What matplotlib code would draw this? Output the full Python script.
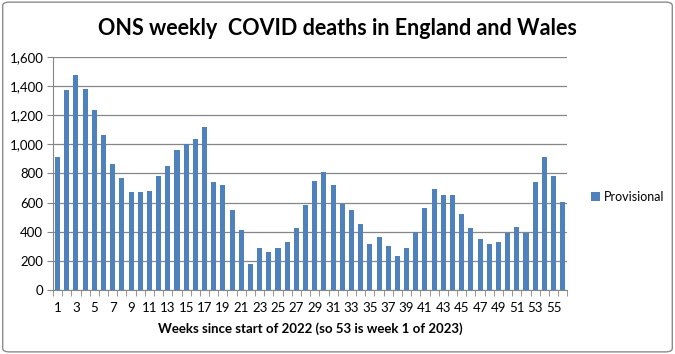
import matplotlib
matplotlib.use("Agg")
import matplotlib.pyplot as plt
from matplotlib.patches import FancyBboxPatch
import numpy as np

weeks = list(range(1, 57))
deaths = [915, 1375, 1478, 1382, 1237, 1067, 862, 767, 672, 672,
          678, 780, 848, 958, 1003, 1040, 1122, 740, 718, 548,
          410, 180, 285, 260, 285, 329, 423, 584, 748, 808,
          720, 590, 547, 452, 315, 361, 300, 231, 285, 400,
          561, 692, 651, 651, 520, 423, 347, 313, 329, 389,
          430, 389, 740, 916, 784, 607]
tick_labels = [str(w) if w % 2 == 1 else "" for w in weeks]
yticks = [0, 200, 400, 600, 800, 1000, 1200, 1400, 1600]

plt.rcParams['font.family'] = ['Lato', 'DejaVu Sans']

fig = plt.figure(figsize=(6.75, 3.54), dpi=100)
# outer border like the excel chart frame
fig.patches.append(FancyBboxPatch((0.004, 0.006), 0.992, 0.988, boxstyle="round,pad=0,rounding_size=0.01",
                                  transform=fig.transFigure, fill=False, edgecolor="#8c8c8c", lw=1))

ax = fig.add_axes([0.0785, 0.181, 0.762, 0.658])
x = np.arange(len(weeks))
ax.bar(x, deaths, width=0.55, color="#4F81BD", label="Provisional", zorder=3)

ax.set_xlim(-0.5, len(weeks) - 0.5)
ax.set_ylim(0, 1600)
ax.set_yticks(yticks)
ax.set_yticklabels([f"{v:,}" for v in yticks], fontsize=9.5)
ax.yaxis.grid(True, color="#868686", lw=0.9, zorder=0)

ax.set_xticks(x)
ax.set_xticklabels(tick_labels, fontsize=9.5)
ax.tick_params(axis="x", length=0, pad=9)
ax.set_xticks(np.arange(-0.5, len(weeks)), minor=True)
ax.tick_params(axis="x", which="minor", length=4, color="#868686")
ax.tick_params(axis="y", length=4, color="#868686", pad=3)

for s in ["top", "right"]:
    ax.spines[s].set_visible(False)
for s in ["left", "bottom"]:
    ax.spines[s].set_color("#868686")

ax.set_xlabel("Weeks since start of 2022 (so 53 is week 1 of 2023)", fontsize=9.5,
              fontweight="bold", labelpad=6)

fig.text(0.5, 0.92, "ONS weekly  COVID deaths in England and Wales", ha="center", va="center",
         fontsize=15.5, fontweight="bold")

ax.legend(loc="center left", bbox_to_anchor=(1.025, 0.40), frameon=False, fontsize=9,
          handlelength=0.7, handleheight=0.7, handletextpad=0.3)

fig.savefig("out.png", dpi=100)
